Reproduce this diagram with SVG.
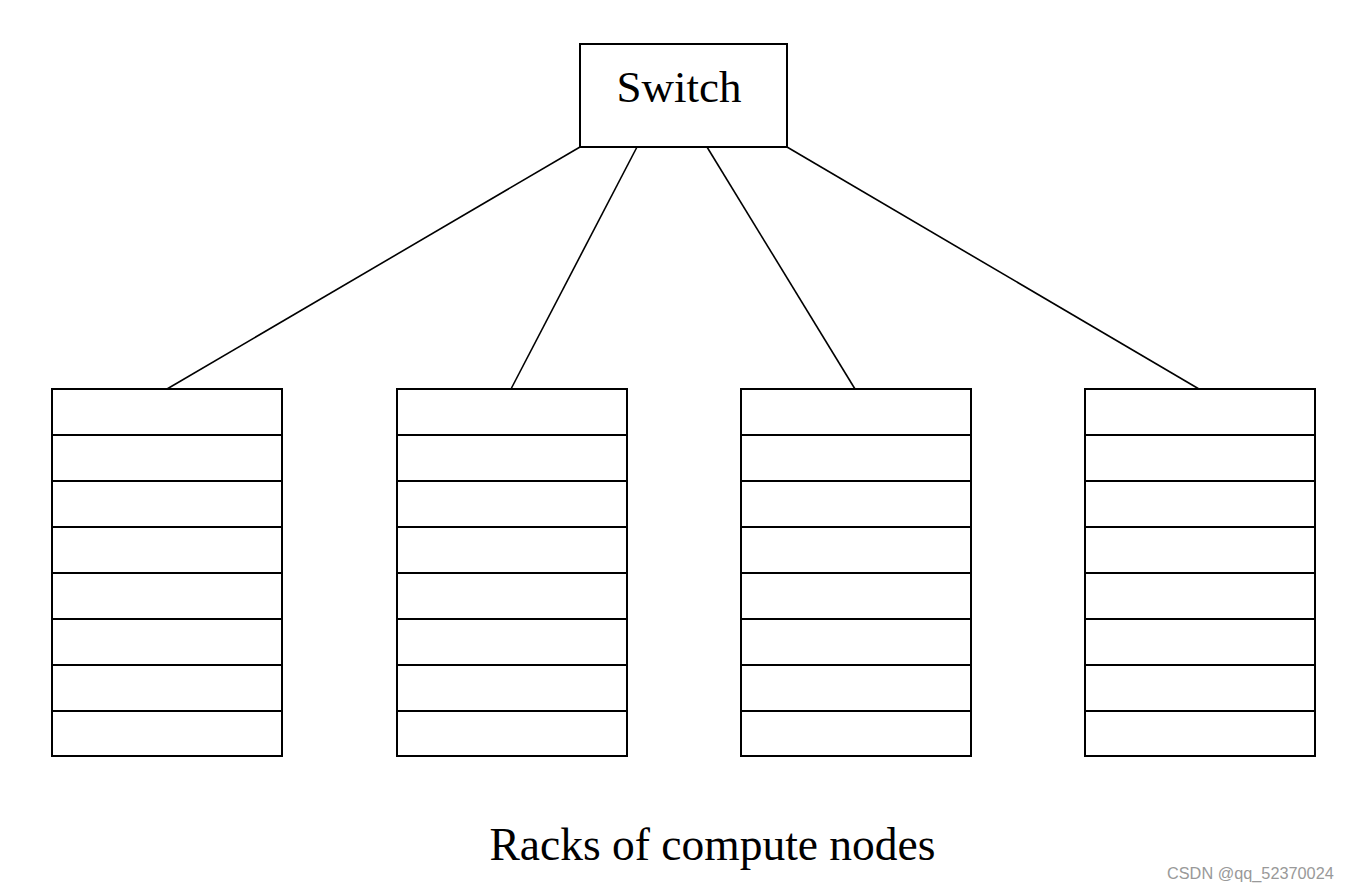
<svg xmlns="http://www.w3.org/2000/svg" width="1350" height="889" viewBox="0 0 1350 889">
<style>
.box{fill:#fff;stroke:#000;stroke-width:2}
.row{stroke:#000;stroke-width:2}
.conn{stroke:#000;stroke-width:1.6;fill:none}
.t{font-family:"Liberation Serif","Times New Roman",serif;fill:#000}
</style>
<rect width="1350" height="889" fill="#fff"/>
<g id="connectors">
<line class="conn" x1="580" y1="147" x2="167" y2="389"/>
<line class="conn" x1="637" y1="147" x2="511" y2="389"/>
<line class="conn" x1="707" y1="147" x2="855" y2="389"/>
<line class="conn" x1="787" y1="147" x2="1199" y2="389"/>
</g>
<g id="switch">
<rect class="box" x="580" y="44" width="207" height="103"/>
<text class="t" x="679" y="102" font-size="45" text-anchor="middle">Switch</text>
</g>
<defs>
<g id="rack">
<rect class="box" x="0" y="0" width="230" height="367"/>
<path class="row" d="M0 46H230M0 92H230M0 138H230M0 184H230M0 230H230M0 276H230M0 322H230"/>
</g>
</defs>
<g id="rack1"><use href="#rack" x="52" y="389"/></g>
<g id="rack2"><use href="#rack" x="397" y="389"/></g>
<g id="rack3"><use href="#rack" x="741" y="389"/></g>
<g id="rack4"><use href="#rack" x="1085" y="389"/></g>
<g id="caption">
<text class="t" x="712.5" y="860" font-size="45.5" text-anchor="middle">Racks of compute nodes</text>
</g>
<text x="1167" y="879" font-family="Liberation Sans, Arial, sans-serif" font-size="16.3" fill="#999">CSDN @qq_52370024</text>
</svg>
